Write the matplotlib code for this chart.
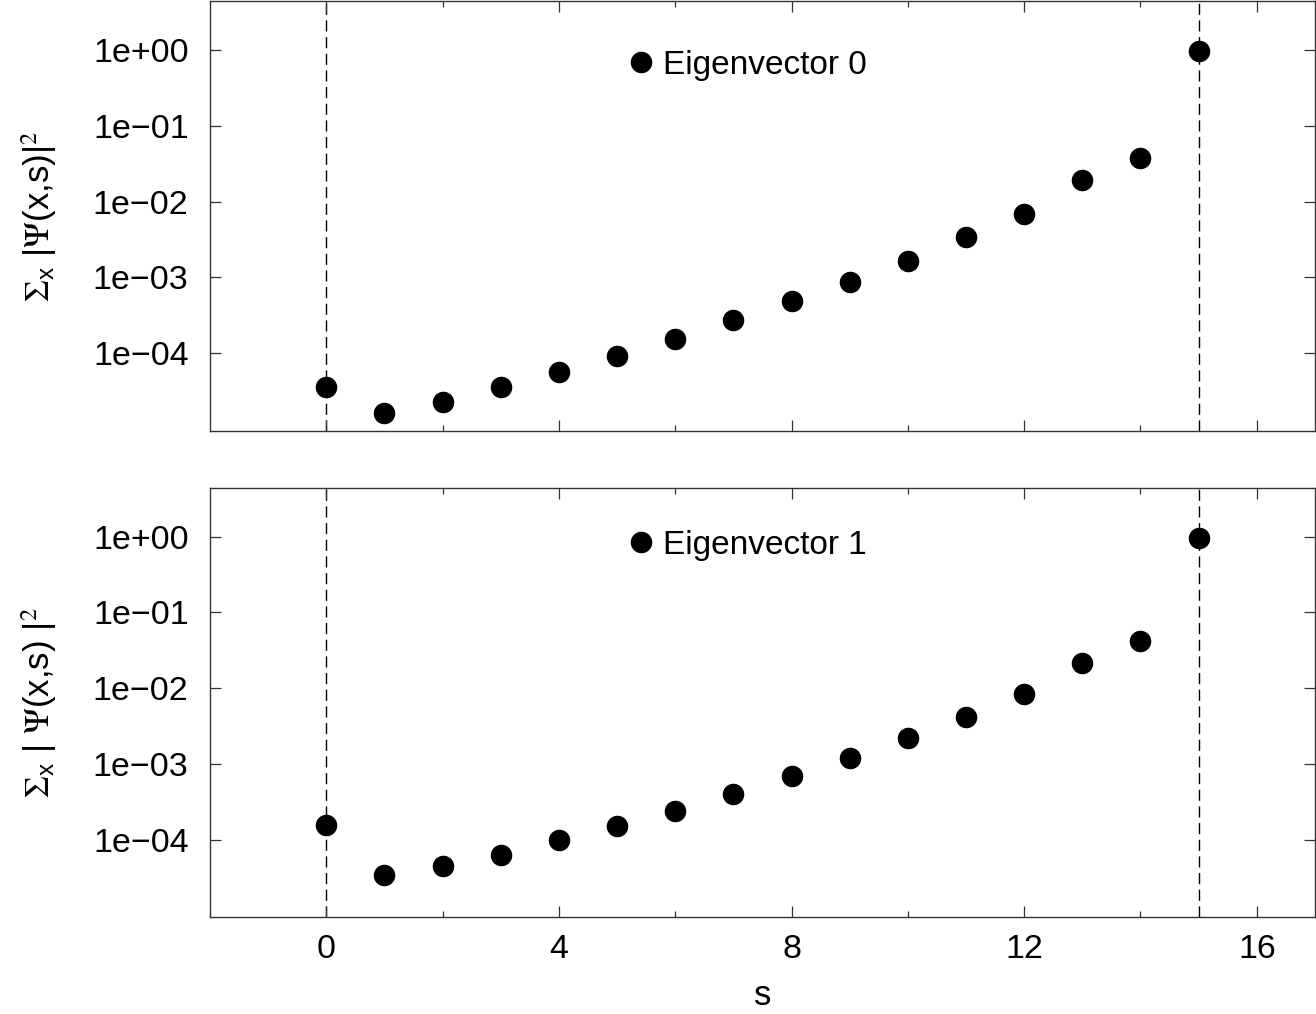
import matplotlib
matplotlib.use("Agg")
import matplotlib.pyplot as plt
from matplotlib.ticker import FixedLocator, FuncFormatter, NullLocator

plt.rcParams['font.family'] = ['Liberation Sans', 'DejaVu Sans']
plt.rcParams['mathtext.fontset'] = 'stix'

# data
s_vals = list(range(16))
ev0 = [3.57e-5, 1.62e-5, 2.26e-5, 3.57e-5, 5.6e-5, 9.1e-5, 1.53e-4, 2.72e-4,
       4.83e-4, 8.85e-4, 1.67e-3, 3.46e-3, 6.95e-3, 1.95e-2, 3.8e-2, 0.97]
ev1 = [1.58e-4, 3.43e-5, 4.5e-5, 6.3e-5, 1.0e-4, 1.52e-4, 2.4e-4, 4.03e-4,
       6.97e-4, 1.2e-3, 2.21e-3, 4.19e-3, 8.43e-3, 2.17e-2, 4.23e-2, 0.96]
labels = ["Eigenvector 0", "Eigenvector 1"]
ylabels = [r"$\Sigma_{\mathregular{x}}$ |$\Psi$(x,s)|$^2$",
           r"$\Sigma_{\mathregular{x}}$ | $\Psi$(x,s) |$^2$"]
boundaries = [0, 15]
yticks = [1e-4, 1e-3, 1e-2, 1e-1, 1e0]
xmajor = [0, 4, 8, 12, 16]
xminor = [2, 6, 10, 14]

fig = plt.figure(figsize=(13.16, 10.14), dpi=100)
ax_top = fig.add_axes([0.1596, 0.575, 0.8396, 0.424])
ax_bot = fig.add_axes([0.1596, 0.0957, 0.8396, 0.423])

def fmt(v, pos):
    return "{:.0e}".format(v).replace("-", "\u2212")

for ax, data, lab, ylab in zip([ax_top, ax_bot], [ev0, ev1], labels, ylabels):
    for b in boundaries:
        ax.axvline(b, color='black', lw=1.0, ls=(0, (8, 4)), zorder=1)
    ax.plot(s_vals, data, 'o', color='black', markersize=14.5, label=lab, zorder=3)
    ax.set_yscale('log')
    ax.set_xlim(-2, 17)
    ax.set_ylim(9.5e-6, 4.4)
    ax.yaxis.set_major_locator(FixedLocator(yticks))
    ax.yaxis.set_minor_locator(NullLocator())
    ax.yaxis.set_major_formatter(FuncFormatter(fmt))
    ax.xaxis.set_major_locator(FixedLocator(xmajor))
    ax.xaxis.set_minor_locator(FixedLocator(xminor))
    ax.tick_params(which='both', direction='in', top=True, right=True,
                   labelsize=24.5, width=0.9, colors='#333333', labelcolor='black')
    ax.tick_params(axis='y', pad=15.5)
    ax.tick_params(axis='x', pad=12)
    ax.tick_params(which='major', length=8)
    ax.tick_params(which='minor', length=4.5)
    for sp in ax.spines.values():
        sp.set_linewidth(1.0)
        sp.set_color('#333333')
    ax.set_ylabel(ylab, fontsize=25, labelpad=24)
    ax.legend(loc='center left', bbox_to_anchor=(0.381, 0.85 if ax is ax_top else 0.867),
              frameon=False, handlelength=0.6, handletextpad=0.35,
              borderpad=0, borderaxespad=0, fontsize=24, markerscale=1.0)

ax_top.tick_params(labelbottom=False)
ax_bot.set_xlabel("s", fontsize=25, labelpad=10)

fig.savefig("out.png", dpi=100)
